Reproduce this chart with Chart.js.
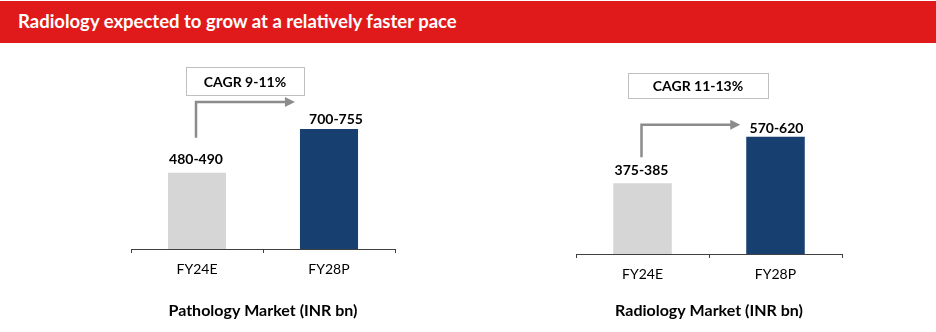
<!DOCTYPE html>
<html>
<head>
<meta charset="utf-8">
<script src="https://cdn.jsdelivr.net/npm/chart.js@4.4.1/dist/chart.umd.min.js"></script>
<style>
  html,body{margin:0;padding:0;background:#fff;}
  body{width:936px;height:332px;position:relative;overflow:hidden;font-family:Lato,"Open Sans",sans-serif;}
  #hdr{position:absolute;left:0;top:1px;width:936px;height:42px;background:#E01A1A;}
  #hdr span{position:absolute;left:18px;top:9px;color:#fff;font:bold 18.5px Lato,sans-serif;white-space:nowrap;}
  canvas{position:absolute;}
  #c1{left:111px;top:45px;}
  #c2{left:556px;top:45px;}
</style>
</head>
<body>
<div id="hdr"><span>Radiology expected to grow at a relatively faster pace</span></div>
<canvas id="c1" width="304" height="287"></canvas>
<canvas id="c2" width="306" height="287"></canvas>
<script>
// ---- data ----
const categories = ["FY24E", "FY28P"];
const pathologyValues = [480, 755];
const pathologyLabels = ["480-490", "700-755"];
const radiologyValues = [375, 620];
const radiologyLabels = ["375-385", "570-620"];
const pathologyCagr = "CAGR 9-11%";
const radiologyCagr = "CAGR 11-13%";
const pathologyTitle = "Pathology Market (INR bn)";
const radiologyTitle = "Radiology Market (INR bn)";

const barColors = ["#D6D6D6", "#173F6F"];
const FONT = "Lato, 'Open Sans', sans-serif";

const annotPlugin = {
  id: 'annot',
  afterDatasetsDraw(chart, args, opts) {
    const ctx = chart.ctx;
    const meta = chart.getDatasetMeta(0);
    const bars = meta.data;
    ctx.save();
    // value labels
    ctx.fillStyle = '#000';
    ctx.font = 'bold 14px ' + FONT;
    ctx.textAlign = 'center';
    ctx.textBaseline = 'alphabetic';
    bars.forEach((b, i) => {
      ctx.fillText(opts.labels[i], b.x + opts.labelDx[i], b.y - opts.labelGap[i]);
    });
    // arrow
    const b0 = bars[0], b1 = bars[1];
    const x0 = b0.x - 1;
    const yStart = b0.y - opts.arrowStart;
    const yLevel = b1.y - opts.arrowLevel;
    const xTip = b1.x - b1.width / 2 - opts.tipGap;
    ctx.strokeStyle = '#8C8C8C';
    ctx.fillStyle = '#8C8C8C';
    ctx.lineWidth = 2.5;
    ctx.beginPath();
    ctx.moveTo(x0, yStart);
    ctx.lineTo(x0, yLevel);
    ctx.lineTo(xTip - 9, yLevel);
    ctx.stroke();
    ctx.beginPath();
    ctx.moveTo(xTip, yLevel);
    ctx.lineTo(xTip - 10, yLevel - 5);
    ctx.lineTo(xTip - 10, yLevel + 5);
    ctx.closePath();
    ctx.fill();
    // CAGR box
    const bx = chart.chartArea.left + opts.box.x, by = opts.box.y;
    ctx.fillStyle = '#fff';
    ctx.fillRect(bx, by, opts.box.w, opts.box.h);
    ctx.strokeStyle = '#BFBFBF';
    ctx.lineWidth = 1;
    ctx.strokeRect(bx + 0.5, by + 0.5, opts.box.w, opts.box.h);
    ctx.fillStyle = '#000';
    ctx.font = 'bold 14px ' + FONT;
    ctx.textBaseline = 'middle';
    ctx.fillText(opts.cagr, bx + opts.box.w / 2, by + opts.box.h / 2 + 1);
    ctx.restore();
  }
};

function makeChart(id, values, labels, cagr, title, cfg) {
  return new Chart(document.getElementById(id), {
    type: 'bar',
    data: {
      labels: categories,
      datasets: [{
        data: values,
        backgroundColor: barColors,
        barPercentage: 0.44,
        categoryPercentage: 1.0
      }]
    },
    options: {
      responsive: false,
      animation: false,
      devicePixelRatio: 1,
      layout: { padding: cfg.padding },
      plugins: {
        legend: { display: false },
        tooltip: { enabled: false },
        annot: Object.assign({ labels: labels, cagr: cagr }, cfg.annot)
      },
      scales: {
        y: { display: false, min: 0, max: 1000 },
        x: {
          offset: true,
          grid: { display: true, drawOnChartArea: false, drawTicks: true, tickLength: 4, color: '#404040', offset: true },
          border: { display: true, color: '#404040', width: 1 },
          ticks: { color: '#000', font: { family: FONT, size: 14 }, padding: 8 },
          title: { display: true, text: title, color: '#000', font: { family: FONT, size: 16, weight: 'bold' }, padding: { top: cfg.titlePad, bottom: 4 } }
        }
      }
    },
    plugins: [annotPlugin]
  });
}

makeChart('c1', pathologyValues, pathologyLabels, pathologyCagr, pathologyTitle, {
  padding: { left: 20, right: 20, top: 45, bottom: 8 },
  titlePad: 15,
  annot: { labelDx: [-1, 7], labelGap: [9, 5], arrowStart: 35, arrowLevel: 27, tipGap: 5,
           box: { x: 55, y: 22, w: 118, h: 28 } }
});
makeChart('c2', radiologyValues, radiologyLabels, radiologyCagr, radiologyTitle, {
  padding: { left: 20, right: 20, top: 20, bottom: 8 },
  titlePad: 10,
  annot: { labelDx: [-1, 1], labelGap: [8, 4], arrowStart: 26, arrowLevel: 12, tipGap: 6,
           box: { x: 52, y: 28, w: 140, h: 25 } }
});
</script>
</body>
</html>
